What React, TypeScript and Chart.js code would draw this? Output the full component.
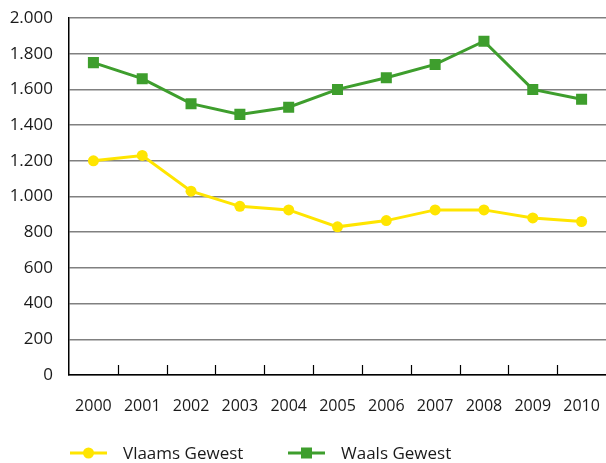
import React, { useEffect, useRef } from "react";
import { Chart, registerables } from "chart.js";

Chart.register(...registerables);

const years = ["2000", "2001", "2002", "2003", "2004", "2005", "2006", "2007", "2008", "2009", "2010"];
const vlaams = [1200, 1230, 1030, 945, 925, 830, 865, 925, 925, 880, 860];
const waals = [1750, 1660, 1520, 1460, 1500, 1600, 1665, 1740, 1870, 1600, 1545];
const seriesNames = ["Vlaams Gewest", "Waals Gewest"];

const YELLOW = "#FFE500";
const GREEN = "#3E9E2D";
const FONT = "'Open Sans', 'Noto Sans', sans-serif";

const fmt = (v: number) => v.toString().replace(/\B(?=(\d{3})+(?!\d))/g, ".");

const xTickPlugin = {
  id: "xInnerTicks",
  afterDatasetsDraw(chart: any) {
    const { ctx, chartArea, scales } = chart;
    const x = scales.x;
    ctx.save();
    ctx.strokeStyle = "#000";
    ctx.lineWidth = 1.2;
    for (let i = 1; i < years.length; i++) {
      const px = Math.round((x.getPixelForTick(i - 1) + x.getPixelForTick(i)) / 2) + 0.5;
      ctx.beginPath();
      ctx.moveTo(px, chartArea.bottom);
      ctx.lineTo(px, chartArea.bottom - 10);
      ctx.stroke();
    }
    ctx.restore();
  },
};

const legendPlugin = {
  id: "customLegend",
  afterDraw(chart: any) {
    const { ctx } = chart;
    const y = 453;
    const items = [
      { x: 70, ds: chart.data.datasets[0] },
      { x: 288, ds: chart.data.datasets[1] },
    ];
    ctx.save();
    items.forEach((it) => {
      const ds = it.ds;
      ctx.strokeStyle = ds.borderColor;
      ctx.lineWidth = 3;
      ctx.beginPath();
      ctx.moveTo(it.x, y);
      ctx.lineTo(it.x + 37, y);
      ctx.stroke();
      ctx.fillStyle = ds.backgroundColor;
      const cx = it.x + 18.5;
      if (ds.pointStyle === "rect") {
        ctx.fillRect(cx - 5.5, y - 5.5, 11, 11);
      } else {
        ctx.beginPath();
        ctx.arc(cx, y, 5.5, 0, Math.PI * 2);
        ctx.fill();
      }
      ctx.fillStyle = "#1a1a1a";
      ctx.font = `17px ${FONT}`;
      ctx.textBaseline = "middle";
      ctx.textAlign = "left";
      ctx.fillText(ds.label, it.x + 53, y + 1);
    });
    ctx.restore();
  },
};

export default function App() {
  const ref = useRef<HTMLCanvasElement | null>(null);
  useEffect(() => {
    if (!ref.current) return;
    const chart = new Chart(ref.current, {
      type: "line",
      data: {
        labels: years,
        datasets: [
          {
            label: seriesNames[0],
            data: vlaams,
            borderColor: YELLOW,
            backgroundColor: YELLOW,
            borderWidth: 3,
            pointStyle: "circle",
            pointRadius: 5.5,
            pointBorderWidth: 0,
            tension: 0,
          },
          {
            label: seriesNames[1],
            data: waals,
            borderColor: GREEN,
            backgroundColor: GREEN,
            borderWidth: 3,
            pointStyle: "rect",
            pointRadius: 7.8,
            pointBorderWidth: 0,
            tension: 0,
          },
        ],
      },
      options: {
        animation: false,
        responsive: false,
        devicePixelRatio: 1,
        layout: { autoPadding: false, padding: { top: 18, right: 0, left: 0, bottom: 0 } },
        plugins: {
          legend: { display: false },
          tooltip: { enabled: false },
        },
        scales: {
          x: {
            offset: true,
            grid: { display: false, drawTicks: false },
            border: { color: "#000", width: 1.5 },
            ticks: {
              color: "#1a1a1a",
              font: { family: FONT, size: 16 },
              padding: 22,
            },
            afterFit: (s: any) => {
              s.height = 88;
              s.paddingLeft = 0;
              s.paddingRight = 0;
            },
          },
          y: {
            min: 0,
            max: 2000,
            ticks: {
              stepSize: 200,
              color: "#1a1a1a",
              font: { family: FONT, size: 17 },
              padding: 16,
              callback: (v: any) => fmt(Number(v)),
            },
            grid: { color: "#808080", lineWidth: 1.5, drawTicks: false },
            border: { color: "#000", width: 1.5 },
            afterFit: (s: any) => {
              s.width = 69;
              s.paddingTop = 0;
              s.paddingBottom = 0;
            },
          },
        },
      },
      plugins: [xTickPlugin, legendPlugin],
    });
    return () => chart.destroy();
  }, []);
  return (
    <div style={{ position: "fixed", left: 0, top: 0, width: 606, height: 463, background: "#fff" }}>
      <canvas ref={ref} width={606} height={463} style={{ width: 606, height: 463 }} />
    </div>
  );
}
